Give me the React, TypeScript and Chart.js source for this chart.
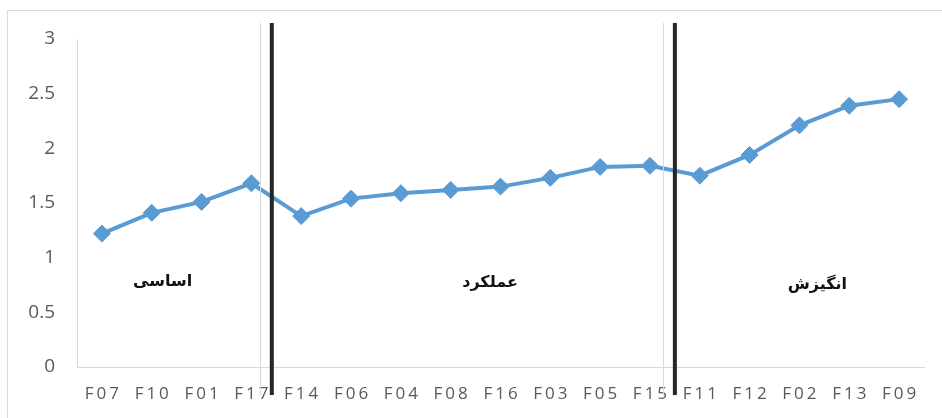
import React, { useEffect, useRef } from "react";
import { Chart, registerables } from "chart.js";

Chart.register(...registerables);

const CATEGORIES = ["F07", "F10", "F01", "F17", "F14", "F06", "F04", "F08", "F16", "F03", "F05", "F15", "F11", "F12", "F02", "F13", "F09"];
const VALUES = [1.22, 1.41, 1.51, 1.68, 1.38, 1.54, 1.59, 1.62, 1.65, 1.73, 1.83, 1.84, 1.75, 1.94, 2.21, 2.39, 2.45];
const Y_TICKS = [0, 0.5, 1, 1.5, 2, 2.5, 3];
const DIVIDERS = [3.41, 11.5];
const GUIDES = [3.17, 11.27];
const GROUP_LABELS = ["اساسی", "عملکرد", "انگیزش"];
const GROUP_X = [1.22, 7.79, 14.36];
const GROUP_Y = [0.78, 0.77, 0.75];

const overlay = {
  id: "overlay",
  beforeDraw(chart: any) {
    const ctx = chart.ctx;
    ctx.save();
    ctx.fillStyle = "#ffffff";
    ctx.fillRect(0, 0, chart.width, chart.height);
    ctx.strokeStyle = "#d9d9d9";
    ctx.lineWidth = 1;
    ctx.strokeRect(7.5, 10.5, chart.width + 10, chart.height + 10);
    ctx.restore();
  },
  afterDraw(chart: any) {
    const ctx = chart.ctx;
    const x = chart.scales.x;
    const y = chart.scales.y;
    const area = chart.chartArea;
    ctx.save();
    // x labels with letter spacing
    ctx.font = "17px 'Open Sans', sans-serif";
    ctx.fillStyle = "#595959";
    ctx.textAlign = "center";
    ctx.textBaseline = "middle";
    (ctx as any).letterSpacing = "3px";
    CATEGORIES.forEach((c, i) => {
      ctx.fillText(c, x.getPixelForValue(i) + 1.5, area.bottom + 27);
    });
    (ctx as any).letterSpacing = "0px";
    // thin guides
    ctx.strokeStyle = "#d9d9d9";
    ctx.lineWidth = 1;
    GUIDES.forEach((g) => {
      const px = Math.round(x.getPixelForValue(g)) + 0.5;
      ctx.beginPath();
      ctx.moveTo(px, area.top - 16);
      ctx.lineTo(px, area.bottom + 28);
      ctx.stroke();
    });
    // thick dividers
    ctx.strokeStyle = "#262626";
    ctx.lineWidth = 4;
    DIVIDERS.forEach((d) => {
      const px = x.getPixelForValue(d);
      ctx.beginPath();
      ctx.moveTo(px, area.top - 16);
      ctx.lineTo(px, area.bottom + 28);
      ctx.stroke();
    });
    // group labels
    ctx.font = "bold 16px 'DejaVu Sans', sans-serif";
    ctx.fillStyle = "#111111";
    ctx.direction = "rtl";
    GROUP_LABELS.forEach((t, i) => {
      ctx.fillText(t, x.getPixelForValue(GROUP_X[i]), y.getPixelForValue(GROUP_Y[i]));
    });
    ctx.restore();
  },
};

export default function App() {
  const ref = useRef<HTMLCanvasElement>(null);
  useEffect(() => {
    if (!ref.current) return;
    const chart = new Chart(ref.current, {
      type: "line",
      data: {
        labels: CATEGORIES,
        datasets: [
          {
            data: VALUES,
            borderColor: "#5B9BD5",
            backgroundColor: "#5B9BD5",
            borderWidth: 4,
            pointStyle: "rectRot",
            pointRadius: 8.5,
            pointBorderWidth: 1,
            pointBackgroundColor: "#5B9BD5",
            pointBorderColor: "#5B9BD5",
            tension: 0,
          },
        ],
      },
      options: {
        animation: false,
        responsive: false,
        maintainAspectRatio: false,
        layout: { padding: { left: 0, top: 39, right: 18, bottom: 51 } },
        plugins: { legend: { display: false }, tooltip: { enabled: false } },
        scales: {
          x: {
            offset: true,
            grid: { display: false, drawTicks: false },
            border: { display: true, color: "#d9d9d9", width: 1 },
            ticks: { display: false },
            afterFit: (s: any) => {
              s.height = 0;
            },
          },
          y: {
            min: 0,
            max: 3,
            afterBuildTicks: (s: any) => {
              s.ticks = Y_TICKS.map((v) => ({ value: v }));
            },
            grid: { display: false, drawTicks: false },
            border: { display: true, color: "#d9d9d9", width: 1 },
            ticks: {
              color: "#595959",
              font: { family: "'Open Sans', sans-serif", size: 19 },
              padding: 22,
              callback: (v: any) => String(v),
            },
            afterFit: (s: any) => {
              s.width = 77;
            },
          },
        },
      },
      plugins: [overlay],
    });
    return () => chart.destroy();
  }, []);
  return (
    <div style={{ position: "absolute", left: 0, top: 0, width: 942, height: 418 }}>
      <canvas ref={ref} width={942} height={418} style={{ width: 942, height: 418 }} />
    </div>
  );
}
